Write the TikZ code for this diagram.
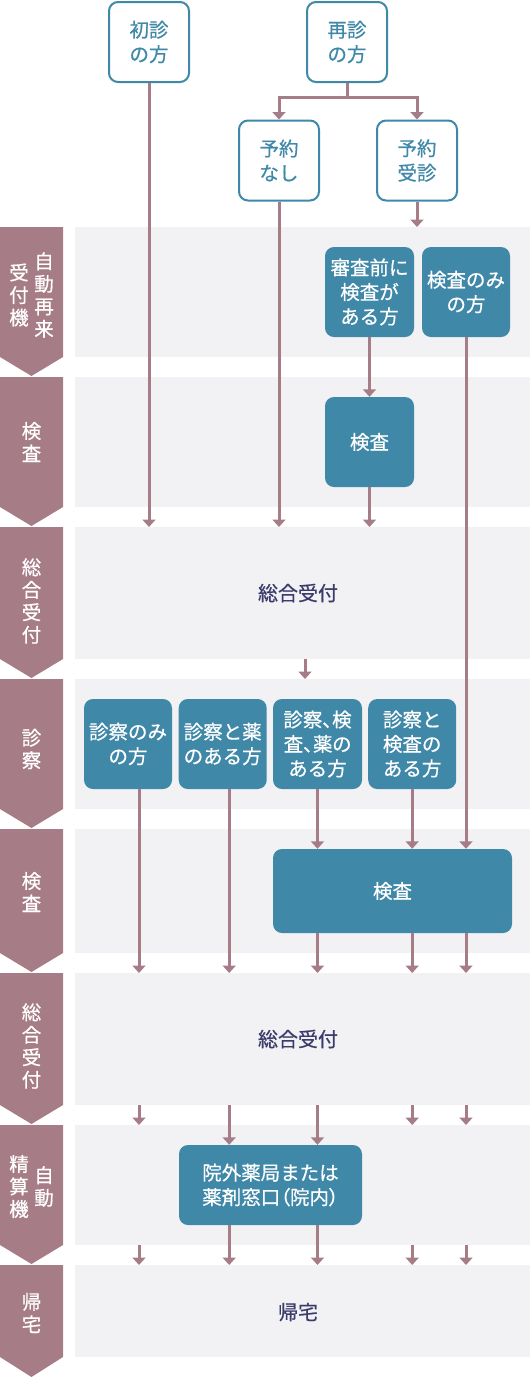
\documentclass[tikz,border=0pt]{standalone}
\usepackage{fontspec}
\setmainfont{Noto Sans CJK JP}[FakeBold=0.6]
\newfontfamily\jpprop{Noto Sans CJK JP}[FakeBold=0.6,RawFeature=+palt]
\usetikzlibrary{arrows.meta}
\definecolor{mauve}{HTML}{A67C87}
\definecolor{tealbox}{HTML}{3F88A8}
\definecolor{bandbg}{HTML}{F2F2F5}
\definecolor{navy}{HTML}{3C3C6C}
\newcommand\chevr[3]{\fill[mauve] (0,#1) -- (63,#1) -- (63,#2) -- (31.5,#3) -- (0,#2) -- cycle;}
\begin{document}
\begin{tikzpicture}[x=1pt,y=-1pt,
  band/.style={fill=bandbg,draw=none,inner sep=0pt,anchor=north west,minimum width=455pt},
  tbox/.style={fill=tealbox,draw=none,rounded corners=9pt,text=white,inner sep=0pt,align=center,font=\fontsize{19.5}{24.5}\selectfont},
  wbox/.style={fill=white,draw=tealbox,line width=2pt,rounded corners=9pt,text=tealbox,inner sep=0pt,align=center,minimum width=80pt,minimum height=80pt,font=\fontsize{19.5}{24.5}\selectfont},
  ctext/.style={text=white,align=center,inner sep=0pt,font=\fontsize{19.5}{22.5}\selectfont},
  btext/.style={text=navy,inner sep=0pt,font=\fontsize{20}{24}\selectfont},
  arr/.style={draw=mauve,line width=3pt,-{Triangle[width=13pt,length=7.5pt]}},
  ln/.style={draw=mauve,line width=3pt}]
\useasboundingbox (0,0) rectangle (530,1377);
% bands
\node[band,minimum height=130pt] (b1) at (75,227) {};
\node[band,minimum height=130pt] (b2) at (75,377) {};
\node[band,minimum height=132pt] (b3) at (75,527) {};
\node[band,minimum height=130pt] (b4) at (75,679) {};
\node[band,minimum height=124pt] (b5) at (75,829) {};
\node[band,minimum height=132pt] (b6) at (75,973) {};
\node[band,minimum height=120pt] (b7) at (75,1125) {};
\node[band,minimum height=92pt] (b8) at (75,1265) {};
% chevrons
\chevr{227}{357}{376}
\chevr{377}{507}{526}
\chevr{527}{659}{678}
\chevr{679}{809}{828}
\chevr{829}{953}{972}
\chevr{973}{1105}{1124}
\chevr{1125}{1245}{1264}
\chevr{1265}{1357}{1377}
\node[ctext] (c1r) at (44,295) {自\\動\\再\\来};
\node[ctext] (c1l) at (19,295) {受\\付\\機};
\node[ctext] (c2) at (31.5,442) {検\\査};
\node[ctext] (c3) at (31.5,601) {総\\合\\受\\付};
\node[ctext] (c4) at (31.5,749) {診\\察};
\node[ctext] (c5) at (31.5,892) {検\\査};
\node[ctext] (c6) at (31.5,1046) {総\\合\\受\\付};
\node[ctext] (c7r) at (44,1186.5) {自\\動};
\node[ctext] (c7l) at (19,1186.5) {精\\算\\機};
\node[ctext] (c8) at (31.5,1313) {帰\\宅};
% band texts
\node[btext] (t3) at (298,593) {総合受付};
\node[btext] (t6) at (298,1039) {総合受付};
\node[btext] (t8) at (298,1312) {帰宅};
% top boxes
\node[wbox] (S) at (149,42) {初診\\の方};
\node[wbox] (R) at (347,42) {再診\\の方};
\node[wbox] (N) at (279,160.5) {予約\\なし};
\node[wbox] (Y) at (417,160.5) {予約\\受診};
% teal boxes
\node[tbox,minimum width=89pt,minimum height=90pt] (P) at (369.5,292) {審査前に\\検査が\\ある方};
\node[tbox,minimum width=88pt,minimum height=90pt] (Q) at (466,292) {検査のみ\\の方};
\node[tbox,minimum width=89pt,minimum height=90pt] (K1) at (369.5,442) {検査};
\node[tbox,minimum width=88pt,minimum height=90pt] (A) at (128,744) {診察のみ\\の方};
\node[tbox,minimum width=88pt,minimum height=90pt] (B) at (222.7,744) {診察と薬\\のある方};
\node[tbox,minimum width=89pt,minimum height=90pt] (C) at (317.5,744) {\jpprop 診察、検\\\jpprop 査、薬の\\ある方};
\node[tbox,minimum width=88pt,minimum height=90pt] (D) at (412.2,744) {診察と\\検査の\\ある方};
\node[tbox,minimum width=239pt,minimum height=84pt] (K2) at (392.5,891) {検査};
\node[tbox,minimum width=183pt,minimum height=80pt] (W) at (270.5,1185) {院外薬局または\\薬剤窓口{\jpprop （院内）}};
% connectors top
\draw[arr] (S.south) -- (S.south |- b3.north);
\coordinate (rj) at ([yshift=-14pt]R.south);
\draw[ln] (R.south) -- (rj);
\draw[arr] (rj) -| (N.north);
\draw[arr] (rj) -| (Y.north);
\draw[arr] (N.south) -- (N.south |- b3.north);
\draw[arr] (Y.south) -- (Y.south |- b1.north);
\draw[arr] (P.south) -- (K1.north);
\draw[arr] (K1.south) -- (K1.south |- b3.north);
\draw[arr] (Q.south) -- (Q.south |- K2.north);
\coordinate (m3) at (305,659);
\draw[arr] (m3) -- (m3 |- b4.north);
% row 4 downward
\coordinate (a0) at ([xshift=11pt]A.south);
\coordinate (bb0) at ([xshift=6.5pt]B.south);
\draw[arr] (a0) -- (a0 |- b6.north);
\draw[arr] (bb0) -- (bb0 |- b6.north);
\draw[arr] (C.south) -- (C.south |- K2.north);
\draw[arr] (D.south) -- (D.south |- K2.north);
\draw[arr] (C.south |- K2.south) -- (C.south |- b6.north);
\draw[arr] (D.south |- K2.south) -- (D.south |- b6.north);
\draw[arr] (Q.south |- K2.south) -- (Q.south |- b6.north);
% row 6 to 7
\draw[arr] (a0 |- b6.south) -- (a0 |- b7.north);
\draw[arr] (bb0 |- b6.south) -- (bb0 |- W.north);
\draw[arr] (C.south |- b6.south) -- (C.south |- W.north);
\draw[arr] (D.south |- b6.south) -- (D.south |- b7.north);
\draw[arr] (Q.south |- b6.south) -- (Q.south |- b7.north);
% row 7 to 8
\draw[arr] (a0 |- b7.south) -- (a0 |- b8.north);
\draw[arr] (bb0 |- W.south) -- (bb0 |- b8.north);
\draw[arr] (C.south |- W.south) -- (C.south |- b8.north);
\draw[arr] (D.south |- b7.south) -- (D.south |- b8.north);
\draw[arr] (Q.south |- b7.south) -- (Q.south |- b8.north);
\end{tikzpicture}
\end{document}
